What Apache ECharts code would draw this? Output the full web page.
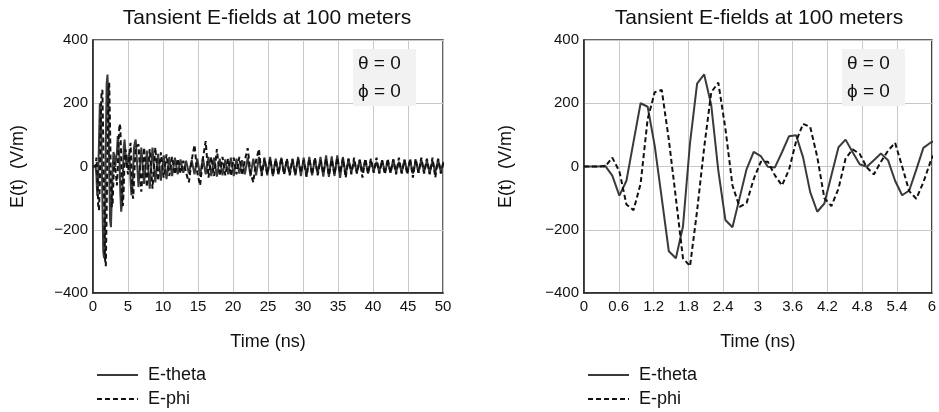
<!DOCTYPE html>
<html><head><meta charset="utf-8">
<script src="https://cdn.jsdelivr.net/npm/echarts@6/dist/echarts.min.js"></script>
<style>html,body{margin:0;padding:0;background:#fff}#c{width:939px;height:412px}</style>
</head><body><div id="c"></div>
<script>
const chartTitle = 'Tansient E-fields at 100 meters';
const yAxisName = 'E(t)  (V/m)';
const xAxisName = 'Time (ns)';
const seriesNames = ['E-theta', 'E-phi'];
const anglesText = ['θ = 0', 'ϕ = 0'];

// early samples (ns) shared by both panels
const timeNs = [0.000,0.122,0.244,0.366,0.488,0.610,0.732,0.854,0.976,1.098,
  1.220,1.341,1.463,1.585,1.707,1.829,1.951,2.073,2.195,2.317,
  2.439,2.561,2.683,2.805,2.927,3.049,3.171,3.293,3.415,3.537,
  3.659,3.780,3.902,4.024,4.146,4.268,4.390,4.512,4.634,4.756,
  4.878,5.000,5.122,5.244,5.366,5.488,5.610,5.732,5.854,5.976,6.098];
const eTheta = [0,0,0,2,-29,-92,-45,78,200,189,
  65,-100,-268,-290,-190,75,262,291,194,-13,
  -169,-192,-100,-8,46,33,-1,-3,45,96,
  99,28,-81,-143,-117,-28,61,85,45,7,
  -1,20,41,20,-45,-91,-76,-10,59,75,85];
const ePhi = [0,0,0,0,28,-15,-120,-138,-55,150,
  235,242,85,-100,-290,-315,-140,60,235,265,
  120,-60,-128,-115,-40,15,15,-28,-60,-10,
  80,135,125,30,-100,-125,-70,25,54,40,
  -3,-25,15,50,75,0,-78,-102,-50,15,60];

// late-time samples (ns) for the 0-50 ns panel
const tailTimeNs = [6.5,6.9,7.3,7.7,8.1,8.5,8.9,9.3,9.7,10.1,
  10.5,10.9,11.3,11.7,12.1,12.5,12.9,13.3,13.7,14.1,
  14.5,14.9,15.3,15.7,16.1,16.5,16.9,17.3,17.7,18.1,
  18.5,18.9,19.3,19.7,20.1,20.5,20.9,21.3,21.7,22.1,
  22.5,22.9,23.3,23.7,24.1,24.5,24.9,25.3,25.7,26.1,
  26.5,26.9,27.3,27.7,28.1,28.5,28.9,29.3,29.7,30.1,
  30.5,30.9,31.3,31.7,32.1,32.5,32.9,33.3,33.7,34.1,
  34.5,34.9,35.3,35.7,36.1,36.5,36.9,37.3,37.7,38.1,
  38.5,38.9,39.3,39.7,40.1,40.5,40.9,41.3,41.7,42.1,
  42.5,42.9,43.3,43.7,44.1,44.5,44.9,45.3,45.7,46.1,
  46.5,46.9,47.3,47.7,48.1,48.5,48.9,49.3,49.7,50.1];
const eThetaTail = [-65,60,-55,50,-70,60,-50,40,-45,35,
  -40,30,-30,28,-25,22,-20,18,-22,20,
  -25,25,-30,28,-25,30,-30,28,-32,25,
  -28,22,-25,28,-30,25,-22,20,-25,28,
  -30,25,-28,30,-25,25,-28,30,-30,25,
  -25,28,-22,20,-25,25,-28,30,-30,28,
  -32,30,-28,25,-25,30,-32,35,-33,32,
  -30,35,-36,30,-28,25,-20,18,-20,22,
  -18,20,-22,18,-15,15,-18,20,-18,15,
  -20,22,-18,15,-20,22,-18,20,-22,18,
  -20,22,-18,20,-22,18,-20,22,-18,15];
const ePhiTail = [70,-80,60,-65,55,-70,60,-45,45,-35,
  38,-30,30,-25,25,-22,18,-20,-50,20,
  68,-20,-60,25,80,-35,30,-30,55,-30,
  30,-28,25,-30,28,-25,30,-28,20,58,
  -20,-50,20,55,-30,28,-25,25,-28,22,
  -25,28,-25,25,-28,22,-25,25,-20,20,
  -32,25,-25,28,-28,20,-22,25,-28,22,
  -25,28,-20,25,-35,25,-25,28,-22,20,
  -35,25,-22,25,-20,28,-22,20,-25,25,
  -20,22,-25,28,-22,20,-25,25,-35,25,
  -20,28,-22,25,-25,28,-35,25,-22,20];

function pairs(t, v) { return t.map((x, i) => [x, v[i]]); }
const thetaShort = pairs(timeNs, eTheta);
const phiShort = pairs(timeNs, ePhi);
const thetaLong = thetaShort.concat(pairs(tailTimeNs, eThetaTail));
const phiLong = phiShort.concat(pairs(tailTimeNs, ePhiTail));

const FONT = 'Liberation Sans, Arial, sans-serif';
const minusFmt = v => v < 0 ? '\u2212' + Math.abs(v) : String(v);

function yAxis(gi, gap) {
  return {
    type: 'value', gridIndex: gi, min: -400, max: 400, interval: 200,
    name: yAxisName, nameLocation: 'middle', nameGap: gap, nameRotate: 90,
    nameTextStyle: { fontFamily: FONT, fontSize: 18, color: '#111' },
    axisLine: { show: true, lineStyle: { color: '#222', width: 1.5 } },
    axisTick: { show: false },
    axisLabel: { fontFamily: FONT, fontSize: 15, color: '#111', margin: 5, formatter: minusFmt },
    splitLine: { show: true, lineStyle: { color: '#c8c8c8', width: 1 } }
  };
}
function xAxis(gi, max, interval) {
  return {
    type: 'value', gridIndex: gi, min: 0, max: max, interval: interval,
    name: xAxisName, nameLocation: 'middle', nameGap: 40,
    nameTextStyle: { fontFamily: FONT, fontSize: 18, color: '#111' },
    axisLine: { show: true, onZero: false, lineStyle: { color: '#222', width: 1.5 } },
    axisTick: { show: false },
    axisLabel: { fontFamily: FONT, fontSize: 15, color: '#111', margin: 6,
      formatter: v => String(Math.round(v * 10) / 10) },
    splitLine: { show: true, lineStyle: { color: '#c8c8c8', width: 1 } }
  };
}
function lineSeries(name, gi, data, dashed) {
  return {
    name: name, type: 'line', xAxisIndex: gi, yAxisIndex: gi, data: data,
    showSymbol: false, symbol: 'none', animation: false,
    lineStyle: dashed ? { color: '#111', width: 2, type: [5, 3] } : { color: '#3a3a3a', width: 2 },
    itemStyle: { color: dashed ? '#111' : '#3a3a3a' }
  };
}
function angleBox(x) {
  return [
    { type: 'rect', left: x, top: 49, shape: { width: 63, height: 57 }, style: { fill: '#f2f2f2' }, z: 10 },
    { type: 'text', x: x + 5, y: 64, style: { text: anglesText[0], font: '19px ' + FONT, fill: '#111', verticalAlign: 'middle' }, z: 11 },
    { type: 'text', x: x + 5, y: 92, style: { text: anglesText[1], font: '19px ' + FONT, fill: '#111', verticalAlign: 'middle' }, z: 11 }
  ];
}
function legend(left) {
  return {
    data: seriesNames, orient: 'vertical', left: left, top: 366, padding: 0,
    itemWidth: 41, itemHeight: 14, itemGap: 6, selectedMode: false,
    itemStyle: { opacity: 0 },
    textStyle: { fontFamily: FONT, fontSize: 18, color: '#111', padding: [0, 0, 0, 5] }
  };
}

const chart = echarts.init(document.getElementById('c'));
chart.setOption({
  backgroundColor: '#fff',
  animation: false,
  grid: [
    { left: 93, right: 496, top: 40, bottom: 119, show: true, borderColor: '#333', borderWidth: 1.5 },
    { left: 584, right: 5, top: 40, bottom: 119, show: true, borderColor: '#333', borderWidth: 1.5 }
  ],
  xAxis: [xAxis(0, 50, 5), xAxis(1, 6, 0.6)],
  yAxis: [yAxis(0, 66), yAxis(1, 69)],
  legend: [legend(96), legend(587)],
  series: [
    lineSeries(seriesNames[0], 0, thetaLong, false),
    lineSeries(seriesNames[1], 0, phiLong, true),
    lineSeries(seriesNames[0], 1, thetaShort, false),
    lineSeries(seriesNames[1], 1, phiShort, true)
  ],
  graphic: [
    { type: 'text', x: 267, y: 18, style: { text: chartTitle, font: '21px ' + FONT, fill: '#111', align: 'center', verticalAlign: 'middle' } },
    { type: 'text', x: 759, y: 18, style: { text: chartTitle, font: '21px ' + FONT, fill: '#111', align: 'center', verticalAlign: 'middle' } }
  ].concat(angleBox(353), angleBox(842))
});
</script></body></html>
